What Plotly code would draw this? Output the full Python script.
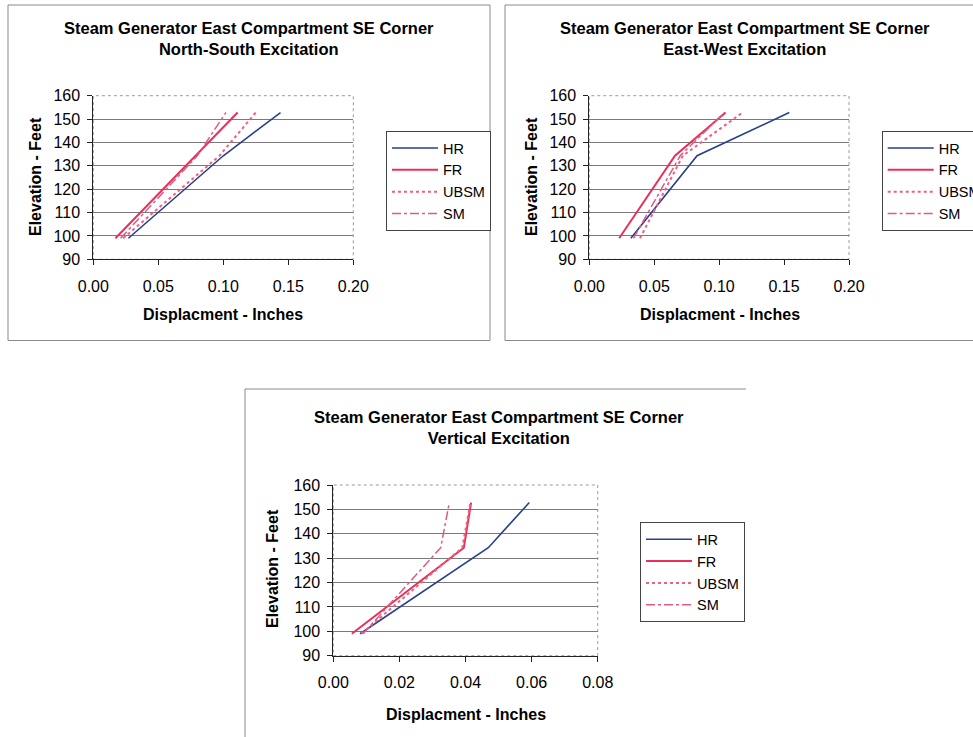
import plotly.graph_objects as go

# ---------------- data ----------------
elevation = [99.0, 134.3, 152.8]
series_names = ["HR", "FR", "UBSM", "SM"]

# North-South excitation (displacement, inches)
ns_hr = [0.027, 0.100, 0.144]
ns_fr = [0.017, 0.079, 0.111]
ns_ubsm = [0.023, 0.097, 0.125]
ns_sm = [0.021, 0.080, 0.102]

# East-West excitation
ew_hr = [0.032, 0.083, 0.154]
ew_fr = [0.023, 0.066, 0.105]
ew_ubsm = [0.039, 0.072, 0.118]
ew_sm = [0.034, 0.070, 0.104]

# Vertical excitation
vt_hr = [0.0081, 0.0469, 0.0593]
vt_fr = [0.0056, 0.0395, 0.0417]
vt_ubsm = [0.0085, 0.0390, 0.0415]
vt_sm = [0.0090, 0.0325, 0.0351]

titles = [
    "Steam Generator East Compartment SE Corner<br>North-South Excitation",
    "Steam Generator East Compartment SE Corner<br>East-West Excitation",
    "Steam Generator East Compartment SE Corner<br>Vertical Excitation",
]
x_title = "Displacment - Inches"
y_title = "Elevation - Feet"
y_ticks = [90, 100, 110, 120, 130, 140, 150, 160]
x_ticks_h = [0.00, 0.05, 0.10, 0.15, 0.20]
x_ticks_v = [0.00, 0.02, 0.04, 0.06, 0.08]

# ---------------- styling ----------------
W, H = 973, 737
FONT = "Liberation Sans, Arial, sans-serif"
styles = {
    "HR": dict(color="#2a3f8f", width=1.6, dash="solid"),
    "FR": dict(color="#e8305a", width=2.0, dash="solid"),
    "UBSM": dict(color="#f0607f", width=2.0, dash="dot"),
    "SM": dict(color="#e05a86", width=1.5, dash="dashdot"),
}


def px(x):
    return x / W


def py(y):
    return 1 - y / H


panels = [
    dict(data=[ns_hr, ns_fr, ns_ubsm, ns_sm], xt=x_ticks_h, fmt=".2f",
         xd=(93.3, 353.3), yd=(95.7, 259.3), legend="legend",
         leg=(386, 131), title=(249, 39), xtl=(223, 315), ytl=(35, 177),
         frame=[(8, 5, 490, 5), (490, 5, 490, 340.5), (490, 340.5, 8, 340.5), (8, 340.5, 8, 5)]),
    dict(data=[ew_hr, ew_fr, ew_ubsm, ew_sm], xt=x_ticks_h, fmt=".2f",
         xd=(589.3, 849.0), yd=(95.7, 259.3), legend="legend2",
         leg=(881.7, 131), title=(745, 39), xtl=(720, 315), ytl=(531, 177),
         frame=[(505, 5, 980, 5), (505, 5, 505, 340.5), (505, 340.5, 980, 340.5)]),
    dict(data=[vt_hr, vt_fr, vt_ubsm, vt_sm], xt=x_ticks_v, fmt=".2f",
         xd=(333.3, 597.7), yd=(485.0, 655.7), legend="legend3",
         leg=(640, 522.3), title=(499, 427.5), xtl=(466, 714), ytl=(272, 569),
         frame=[(245, 389, 746, 389), (245, 389, 245, 760)]),
]

fig = go.Figure()
layout = dict(
    width=W, height=H,
    margin=dict(l=0, r=0, t=0, b=0, autoexpand=False),
    paper_bgcolor="white", plot_bgcolor="white",
    font=dict(family=FONT, color="black", size=16),
    shapes=[], annotations=[],
)

for i, p in enumerate(panels):
    n = "" if i == 0 else str(i + 1)
    xa, ya = "x" + n, "y" + n
    for name, vals in zip(series_names, p["data"]):
        st = styles[name]
        fig.add_trace(go.Scatter(
            x=vals, y=elevation, mode="lines", name=name,
            line=dict(color=st["color"], width=st["width"], dash=st["dash"]),
            xaxis=xa, yaxis=ya, legend=p["legend"], showlegend=True,
            legendgroup=name + n,
        ))
    layout["xaxis" + n] = dict(
        domain=[px(p["xd"][0]), px(p["xd"][1])], anchor=ya,
        range=[p["xt"][0], p["xt"][-1]], tickvals=p["xt"], tickformat=p["fmt"],
        showgrid=False, zeroline=False, showline=True, linecolor="#222",
        linewidth=1, ticks="outside", ticklen=5, tickcolor="#222",
        tickfont=dict(size=16, family=FONT, color="black"),
        ticklabelstandoff=7,
    )
    layout["yaxis" + n] = dict(
        domain=[py(p["yd"][1]), py(p["yd"][0])], anchor=xa,
        range=[90, 160], tickvals=y_ticks,
        showgrid=True, gridcolor="#7a7a7a", gridwidth=1,
        zeroline=False, showline=True, linecolor="#222", linewidth=1,
        ticks="outside", ticklen=5, tickcolor="#222",
        tickfont=dict(size=16, family=FONT, color="black"),
        ticklabelstandoff=4,
    )
    layout[p["legend"]] = dict(
        x=px(p["leg"][0]), y=py(p["leg"][1]), xanchor="left", yanchor="top",
        xref="paper", yref="paper",
        bgcolor="white", bordercolor="#444", borderwidth=1,
        font=dict(size=14.5, family=FONT, color="black"),
        tracegroupgap=0, traceorder="grouped", itemwidth=46,
    )
    # plot area border (light dotted)
    layout["shapes"].append(dict(
        type="rect", xref=xa + " domain", yref=ya + " domain",
        x0=0, x1=1, y0=0, y1=1, line=dict(color="#9a9a9a", width=1, dash="dot"),
        layer="below"))
    # chart frame
    for (fx0, fy0, fx1, fy1) in p["frame"]:
        layout["shapes"].append(dict(
            type="line", xref="paper", yref="paper",
            x0=px(fx0), x1=px(fx1), y0=py(fy0), y1=py(fy1),
            line=dict(color="#8a8a8a", width=1), layer="below"))
    layout["annotations"] += [
        dict(text="<b>" + titles[i] + "</b>", x=px(p["title"][0]), y=py(p["title"][1]),
             xref="paper", yref="paper", showarrow=False, xanchor="center",
             yanchor="middle", font=dict(size=16.5, family=FONT, color="black")),
        dict(text="<b>" + x_title + "</b>", x=px(p["xtl"][0]), y=py(p["xtl"][1]),
             xref="paper", yref="paper", showarrow=False, xanchor="center",
             yanchor="middle", font=dict(size=16, family=FONT, color="black")),
        dict(text="<b>" + y_title + "</b>", x=px(p["ytl"][0]), y=py(p["ytl"][1]),
             xref="paper", yref="paper", showarrow=False, xanchor="center",
             yanchor="middle", textangle=-90,
             font=dict(size=16, family=FONT, color="black")),
    ]

fig.update_layout(**layout)
fig.write_html("out.html")
